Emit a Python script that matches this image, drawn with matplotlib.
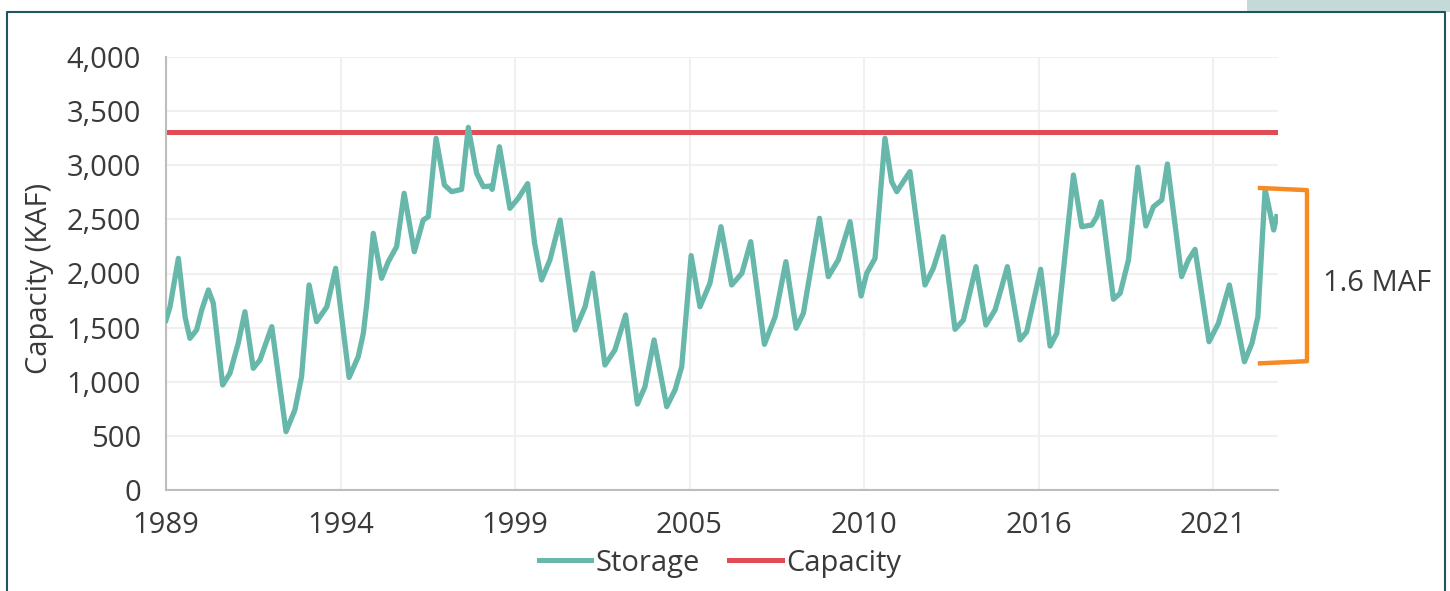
import matplotlib
matplotlib.use("Agg")
import matplotlib.pyplot as plt
from matplotlib.lines import Line2D
from matplotlib.patches import Rectangle

plt.rcParams['font.family'] = ['Open Sans', 'DejaVu Sans']

# months since Jan 1989 and storage (KAF)
months = [0, 1.5, 4.6, 7.1, 8.9, 11.4, 13.3, 15.8, 17.6, 21.1, 23.8, 26.9, 29.4, 32.5,
          35.0, 39.4, 44.7, 48.0, 50.5, 53.3, 56.1, 59.9, 63.2, 68.2, 71.6, 73.5, 74.8,
          77.2, 80.3, 82.8, 85.9, 88.7, 92.5, 95.8, 97.7, 100.6, 103.7, 106.4, 110.1,
          112.6, 115.7, 118.2, 120.7, 121.5, 124.2, 128.1, 131.2, 134.7, 137.3, 139.9,
          143.0, 144.9, 146.8, 152.4, 156.1, 158.9, 163.5, 167.2, 171.2, 175.6, 178.4,
          181.8, 186.5, 189.6, 192.1, 195.6, 198.9, 202.6, 206.7, 210.7, 214.5, 217.8,
          222.9, 226.9, 230.9, 234.7, 237.4, 243.4, 246.7, 250.4, 254.8, 258.9, 261.0,
          264.1, 267.8, 270.3, 272.2, 277.1, 282.7, 285.8, 289.5, 293.9, 297.0, 301.7,
          305.4, 308.8, 311.3, 313.4, 318.1, 320.6, 325.8, 329.3, 331.8, 338.0, 341.1,
          344.8, 346.7, 348.3, 352.9, 355.4, 358.5, 362.0, 365.0, 367.8, 370.9, 373.0,
          378.3, 380.8, 383.3, 388.5, 392.0, 396.1, 401.7, 404.5, 406.7, 409.4, 412.6,
          413.7]
storage = [1570, 1693, 2140, 1601, 1401, 1478, 1663, 1848, 1727, 970, 1078, 1355, 1647, 1124,
           1201, 1509, 539, 739, 1047, 1894, 1555, 1693, 2048, 1040, 1231, 1447, 1725,
           2371, 1956, 2109, 2248, 2741, 2201, 2494, 2525, 3249, 2818, 2756, 2777,
           3350, 2926, 2802, 2808, 2777, 3171, 2602, 2695, 2830, 2279, 1940,
           2125, 2309, 2494, 1478, 1693, 2002, 1155, 1293, 1617, 794, 954,
           1386, 770, 924, 1139, 2165, 1693, 1909, 2432, 1894, 2002, 2294,
           1346, 1601, 2109, 1494, 1632, 2510, 1971, 2125, 2479, 1792, 2002,
           2140, 3249, 2848, 2756, 2941, 1894, 2048, 2340, 1484, 1570, 2063,
           1524, 1663, 1878, 2063, 1386, 1462, 2039, 1330, 1447, 2910, 2432,
           2448, 2525, 2663, 1762, 1817, 2125, 2981, 2439, 2617, 2679, 3012,
           1971, 2125, 2223, 1370, 1540, 1894, 1185, 1355, 1601, 2777, 2402,
           2525]
capacity = 3310
tick_months = [0, 65, 130, 195, 260, 325, 390]
tick_labels = ['1989', '1994', '1999', '2005', '2010', '2016', '2021']
yticks = [0, 500, 1000, 1500, 2000, 2500, 3000, 3500, 4000]
bracket_top = 2790
bracket_bottom = 1170
bracket_label = '1.6 MAF'

W, H = 1450, 591
fig = plt.figure(figsize=(W / 100, H / 100), dpi=100)
fig.patch.set_facecolor('white')

ax = fig.add_axes([166 / W, 1 - 490 / H, (1278 - 166) / W, (490 - 57) / H])
ax.set_xlim(0, 414.2)
ax.set_ylim(0, 4000)

teal = '#67b8aa'
red = '#e04b55'
orange = '#f78a23'
txt = '#3a3a3a'

ax.plot(months, storage, color=teal, lw=3.8, solid_joinstyle='round', label='Storage', zorder=3)
ax.axhline(capacity, color=red, lw=3.6, label='Capacity', zorder=2)

ax.set_xticks(tick_months)
ax.set_xticklabels(tick_labels)
ax.set_yticks(yticks)
ax.set_yticklabels([f'{v:,}' for v in yticks])
ax.tick_params(axis='both', length=0, labelsize=21, labelcolor=txt)
ax.tick_params(axis='x', pad=15)
ax.tick_params(axis='y', pad=18)
ax.grid(True, color='#f0f0f0', lw=1.5)
ax.set_axisbelow(True)
for s in ['top', 'right']:
    ax.spines[s].set_visible(False)
for s in ['left', 'bottom']:
    ax.spines[s].set_color('#bdbdbd')
    ax.spines[s].set_linewidth(1.5)

# bracket
bx0, bx1 = 407.5, 425.0
ax.plot([bx0, bx1, bx1, bx0], [bracket_top, bracket_top - 20, bracket_bottom + 20, bracket_bottom],
        color=orange, lw=3.2, clip_on=False, solid_joinstyle='round', zorder=4)
ax.text(431, (bracket_top + bracket_bottom) / 2 - 70, bracket_label, fontsize=21, color=txt,
        va='center', ha='left', clip_on=False)

fig.text(40 / W, 1 - 278 / H, 'Capacity (KAF)', rotation=90, fontsize=21, color=txt,
         ha='center', va='center')

handles = [Line2D([], [], color=teal, lw=3.6), Line2D([], [], color=red, lw=3.6)]
fig.legend(handles, ['Storage', 'Capacity'], loc='center', bbox_to_anchor=(720 / W, 1 - 563 / H),
           ncol=2, frameon=False, fontsize=21, handlelength=1.8, handletextpad=0.15,
           columnspacing=1.0, labelcolor=txt)

# frame
fc = '#1e5561'
fig.add_artist(Rectangle((1247 / W, 1 - 12 / H), (W - 1247) / W, 12 / H, transform=fig.transFigure,
                         facecolor='#c4dad9', edgecolor='none'))
fig.add_artist(Line2D([7 / W, 7 / W, 1445 / W, 1445 / W], [0, 1 - 12 / H, 1 - 12 / H, 0],
                      transform=fig.transFigure, color=fc, lw=1.5))

fig.savefig('out.png', dpi=100)
